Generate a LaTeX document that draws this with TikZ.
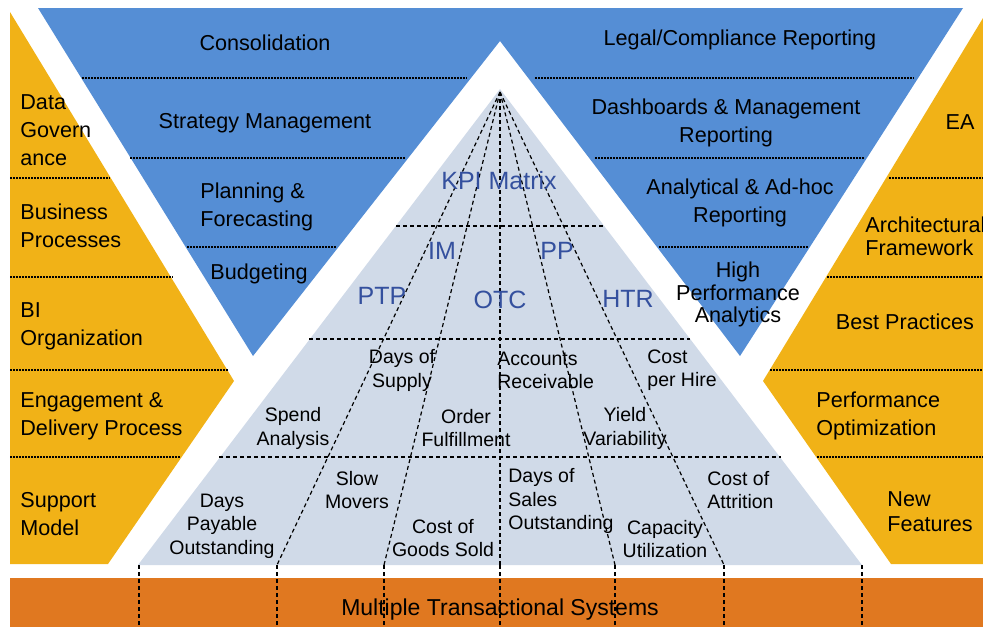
\documentclass[tikz,border=0pt]{standalone}
\usepackage{fontspec}
\setmainfont{Liberation Sans}
\definecolor{bluetri}{RGB}{85,142,213}
\definecolor{yellowbox}{RGB}{241,178,23}
\definecolor{orangebar}{RGB}{224,120,32}
\definecolor{graytri}{RGB}{208,218,232}
\definecolor{kpiblue}{RGB}{52,80,158}
\tikzset{
  sep/.style={line width=0.6pt,dash pattern=on 1pt off 0.5pt},
  cut/.style={line width=0.6pt,dash pattern=on 2pt off 1.5pt},
  lbl/.style={font=\fontsize{10.8}{14}\selectfont,inner sep=0pt,align=center,yshift=-0.9pt},
  kpi/.style={font=\fontsize{12.5}{15}\selectfont,inner sep=0pt,text=kpiblue},
  kpitxt/.style={font=\fontsize{9.75}{11.8}\selectfont,inner sep=0pt,align=center,yshift=-0.6pt}
}
\begin{document}
\begin{tikzpicture}[x=0.5pt,y=-0.5pt]
\useasboundingbox (0,0) rectangle (983,627);
% shapes
\fill[yellowbox](10,12)--(234,381)--(108,564)--(10,564)--cycle;
\fill[yellowbox](983,18)--(763,381)--(891,564)--(983,564)--cycle;
\fill[bluetri](38,8)--(963,8)--(740,356)--(500,41)--(253,356)--cycle;
\fill[graytri](138,565)--(862,565)--(500,89)--cycle;
\fill[orangebar](10,578)rectangle(983,627);
% separators
\foreach \y/\a/\b/\c/\d in {78/82/467/535/914,158/130/405/595/865,247/187/337/659/808}{\draw[sep](\a,\y)--(\b,\y);\draw[sep](\c,\y)--(\d,\y);}
\foreach \y/\a/\b in {178/110/889,277/173/827,370/228/770,457/180/817}{\draw[sep](10,\y)--(\a,\y);\draw[sep](\b,\y)--(983,\y);}
\foreach \y/\a/\b in {226/396/603,339/309/690,457/219/781}{\draw[cut](\a,\y)--(\b,\y);}
% fan
\coordinate(apex)at(500,92);
\foreach \x[count=\i] in {139,277,384,500,615,724,862}{\coordinate(b\i)at(\x,565);\draw[cut](b\i)--++(0,62);}
\foreach \i in {2,...,6}{\draw[cut](apex)--(b\i);}
% blue
\node[lbl](cons)at(265,41){Consolidation};
\node[lbl](strat)at(265,121){Strategy Management};
\node[lbl,align=left,anchor=west](plan)at(200,205){Planning \&\\Forecasting};
\node[lbl](budg)at(259,272){Budgeting};
\node[lbl](legal)at(740,38){Legal/Compliance Reporting};
\node[lbl](dash)at(726,121){Dashboards \& Management\\Reporting};
\node[lbl](adhoc)at(740,201){Analytical \& Ad-hoc\\Reporting};
\node[lbl,font=\fontsize{10.8}{11.2}\selectfont](hpa)at(738,293){High\\Performance\\Analytics};
% yellow
\node[lbl,align=left,anchor=west](gov)at(20,128){Data\\Govern\\ance};
\node[lbl,align=left,anchor=west](bp)at(20,224){Business\\Processes};
\node[lbl,align=left,anchor=west](bio)at(20,325){BI\\Organization};
\node[lbl,align=left,anchor=west](edp)at(20,414){Engagement \&\\Delivery Process};
\node[lbl,align=left,anchor=west](sm)at(20,512){Support\\Model};
\node[lbl](ea)at(960,120){EA};
\node[lbl,align=left,anchor=west,font=\fontsize{10.8}{11.5}\selectfont](af)at(865,234){Architectural\\Framework};
\node[lbl](best)at(905,320){Best Practices};
\node[lbl,align=left,anchor=west](po)at(816,414){Performance\\Optimization};
\node[lbl,align=left,anchor=west,font=\fontsize{10.8}{12.5}\selectfont](nf)at(887,510){New\\Features};
% kpi
\node[kpi](kpim)at(499,181){KPI Matrix};
\node[kpi](im)at(442,251){IM};
\node[kpi](pp)at(557,251){PP};
\node[kpi](ptp)at(382,296){PTP};
\node[kpi](otc)at(500,300){OTC};
\node[kpi](htr)at(628,299){HTR};
\node[kpitxt](dos)at(402,369){Days of\\Supply};
\node[kpitxt,align=left,anchor=west](ar)at(497,369){Accounts\\Receivable};
\node[kpitxt,align=left,anchor=west](cph)at(647,369){Cost\\per Hire};
\node[kpitxt](spend)at(293,427){Spend\\Analysis};
\node[kpitxt](order)at(466,427){Order\\Fulfillment};
\node[kpitxt](yield)at(625,427){Yield\\Variability};
\node[kpitxt](dpo)at(222,525){Days\\Payable\\Outstanding};
\node[kpitxt](slow)at(357,489){Slow\\Movers};
\node[kpitxt](cogs)at(443,537){Cost of\\Goods Sold};
\node[kpitxt,align=left,anchor=west](dso)at(508,500){Days of\\Sales\\Outstanding};
\node[kpitxt](cap)at(665,538){Capacity\\Utilization};
\node[kpitxt,align=left,anchor=west](coa)at(707,489){Cost of\\Attrition};
\node[lbl,font=\fontsize{11.5}{14}\selectfont](mts)at(500,608){Multiple Transactional Systems};
\end{tikzpicture}
\end{document}
